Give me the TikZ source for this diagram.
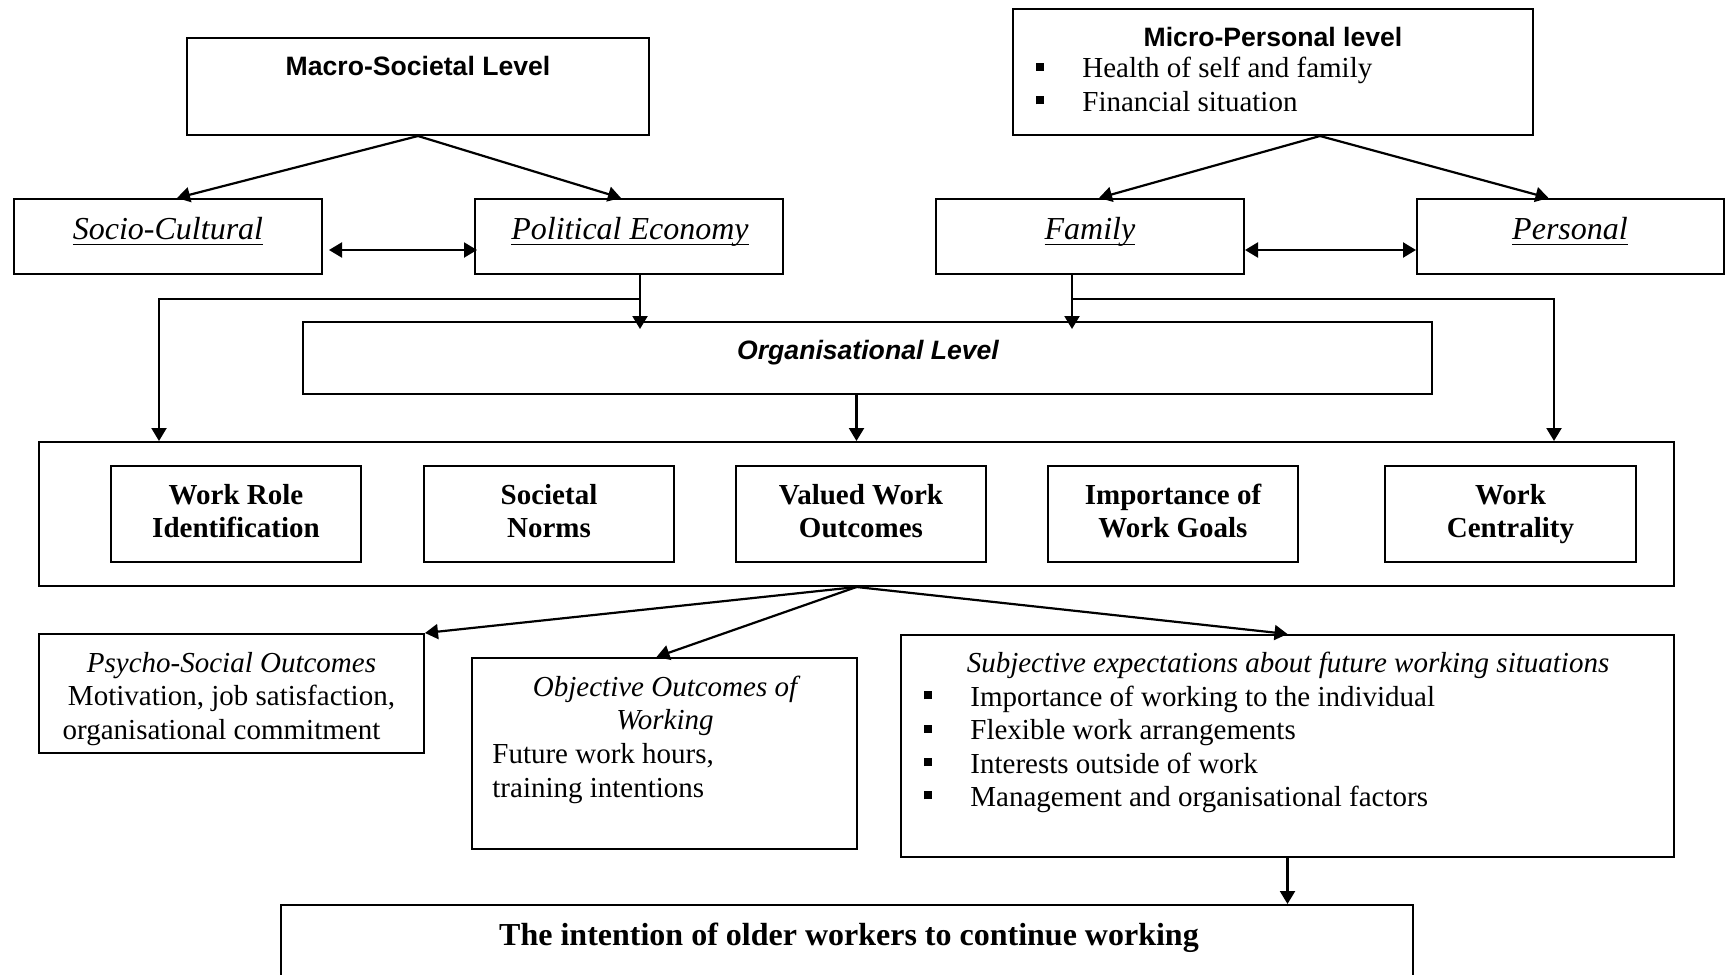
\documentclass[tikz,border=0pt]{standalone}
\usepackage{fontspec}
\setmainfont{Liberation Serif}
\setsansfont{Liberation Sans}
\usetikzlibrary{arrows.meta,calc,fit}
\newcommand\myul[1]{\setbox0\hbox{#1}\rlap{\rule[-3.2pt]{\wd0}{0.8pt}}\box0}
\newcommand\bsq{\rule{0pt}{11pt}\makebox[23pt][l]{\raisebox{3.5pt}{\rule{4pt}{4pt}}}}
\newcommand\fst{\rule{0pt}{11pt}}
\begin{document}
\begin{tikzpicture}[x=0.5pt,y=-0.5pt,
  box/.style={draw, line width=1pt, inner sep=0pt},
  arr/.style={line width=1.1pt, -{Triangle[length=6.5pt,width=7.5pt]}},
  darr/.style={line width=1.1pt, {Triangle[length=6.5pt,width=7.5pt]}-{Triangle[length=6.5pt,width=7.5pt]}},
  ln/.style={line width=1.1pt},
  sanst/.style={font=\fontsize{13.3}{16}\selectfont\sffamily\bfseries, inner sep=0pt, anchor=base},
  orgt/.style={font=\fontsize{13.3}{16}\selectfont\sffamily\bfseries\itshape, inner sep=0pt, anchor=base},
  labt/.style={font=\fontsize{16}{19}\selectfont\itshape, inner sep=0pt, anchor=base},
  bodyt/.style={font=\fontsize{14.5}{16.7}\selectfont, inner sep=0pt},
  innert/.style={font=\fontsize{14.5}{16.5}\selectfont\bfseries, inner sep=0pt, align=center, anchor=north},
  fint/.style={font=\fontsize{16}{19}\selectfont\bfseries, inner sep=0pt, anchor=base}
]
\useasboundingbox (0,0) rectangle (1728,974);
\clip (0,0) rectangle (1728,974);

% boxes
\node[box, fit={(187,38) (649,135)}] (macro) {};
\node[box, fit={(1013,9) (1533,135)}] (micro) {};
\node[box, fit={(14,199) (322,274)}] (soc) {};
\node[box, fit={(475,199) (783,274)}] (pol) {};
\node[box, fit={(936,199) (1244,274)}] (fam) {};
\node[box, fit={(1417,199) (1724,274)}] (per) {};
\node[box, fit={(303,322) (1432,394)}] (org) {};
\node[box, fit={(39,442) (1674,586)}] (big) {};
\node[box, fit={(111,466) (361,562)}] (wr) {};
\node[box, fit={(424,466) (674,562)}] (sn) {};
\node[box, fit={(736,466) (986,562)}] (vw) {};
\node[box, fit={(1048,466) (1298,562)}] (iw) {};
\node[box, fit={(1385,466) (1636,562)}] (wc) {};
\node[box, fit={(39,634) (424,753)}] (psy) {};
\node[box, fit={(472,658) (857,849)}] (obj) {};
\node[box, fit={(901,635) (1674,857)}] (sub) {};
\node[box, fit={(281,905) (1413,1010)}] (fin) {};

% texts
\node[sanst] (tmacro) at (418,75.5) {Macro-Societal Level};
\node[sanst] (tmicro) at (1273,46.5) {Micro-Personal level};
\node[bodyt, anchor=north west, align=left] (lmicro) at (1036,55.5)
  {\bsq Health of self and family\\\bsq Financial situation};
\node[labt] (tsoc) at (168,239) {\myul{Socio-Cultural}};
\node[labt] (tpol) at (630,239) {\myul{Political Economy}};
\node[labt] (tfam) at (1090,239) {\myul{Family}};
\node[labt] (tper) at (1570,239) {\myul{Personal}};
\node[orgt] (torg) at (868,359.5) {Organisational Level};
\node[innert] (twr) at (wr.center |- 0,482.5) {\fst Work Role\\Identification};
\node[innert] (tsn) at (sn.center |- 0,482.5) {\fst Societal\\Norms};
\node[innert] (tvw) at (vw.center |- 0,482.5) {\fst Valued Work\\Outcomes};
\node[innert] (tiw) at (iw.center |- 0,482.5) {\fst Importance of\\Work Goals};
\node[innert] (twc) at (wc.center |- 0,482.5) {\fst Work\\Centrality};
\node[bodyt, anchor=north, align=center] (tpsy) at (231.5,650)
  {\fst\textit{Psycho-Social Outcomes}\\Motivation, job satisfaction,\\organisational commitment\hspace*{10pt}};
\node[bodyt, anchor=north, align=center, font=\fontsize{14.5}{16.5}\selectfont\itshape] (tobj) at (665,674)
  {\fst Objective Outcomes of\\Working};
\node[bodyt, anchor=north west, align=left, font=\fontsize{14.5}{17}\selectfont] (lobj) at (492,741)
  {\fst Future work hours,\\training intentions};
\node[bodyt, anchor=base, font=\fontsize{14.5}{16.7}\selectfont\itshape] (tsub) at (1288,672.5)
  {Subjective expectations about future working situations};
\node[bodyt, anchor=north west, align=left, font=\fontsize{14.5}{16.65}\selectfont] (lsub) at (924,684)
  {\bsq Importance of working to the individual\\\bsq Flexible work arrangements\\\bsq Interests outside of work\\\bsq Management and organisational factors};
\node[fint] (tfin) at (849,945) {The intention of older workers to continue working};

% connectors
\draw[arr] (macro.south) -- ($(soc.north)+(9,0)$);
\draw[arr] (macro.south) -- ($(pol.north)+(-8,0)$);
\draw[darr] ($(soc.east)+(6,13.5)$) -- ($(pol.west)+(3,13.5)$);
\coordinate (mapex) at ($(micro.south)+(47,0)$);
\draw[arr] (mapex) -- ($(fam.north)+(9,0)$);
\draw[arr] (mapex) -- ($(per.north)+(-22,0)$);
\draw[darr] ($(fam.east)+(0,13.5)$) -- ($(per.west)+(0,13.5)$);

\coordinate (jL) at ($(pol.south)+(11,24)$);
\draw[ln] ($(pol.south)+(11,0)$) -- (jL);
\draw[arr] (jL) -- ($(jL |- org.north)+(0,8)$);
\draw[arr] (jL) -| ($(big.north west)+(121,0)$);

\coordinate (jR) at ($(fam.south)+(-18,24)$);
\draw[ln] ($(fam.south)+(-18,0)$) -- (jR);
\draw[arr] (jR) -- ($(jR |- org.north)+(0,8)$);
\draw[arr] (jR) -| ($(big.north east)+(-121,0)$);

\draw[arr] (org.south -| big.north) -- (big.north);

\draw[arr] (big.south) -- (psy.north east);
\draw[arr] (big.south) -- ($(obj.north)+(-8,0)$);
\draw[arr] (big.south) -- (sub.north);
\draw[arr] (sub.south) -- (sub.south |- fin.north);
\end{tikzpicture}
\end{document}
